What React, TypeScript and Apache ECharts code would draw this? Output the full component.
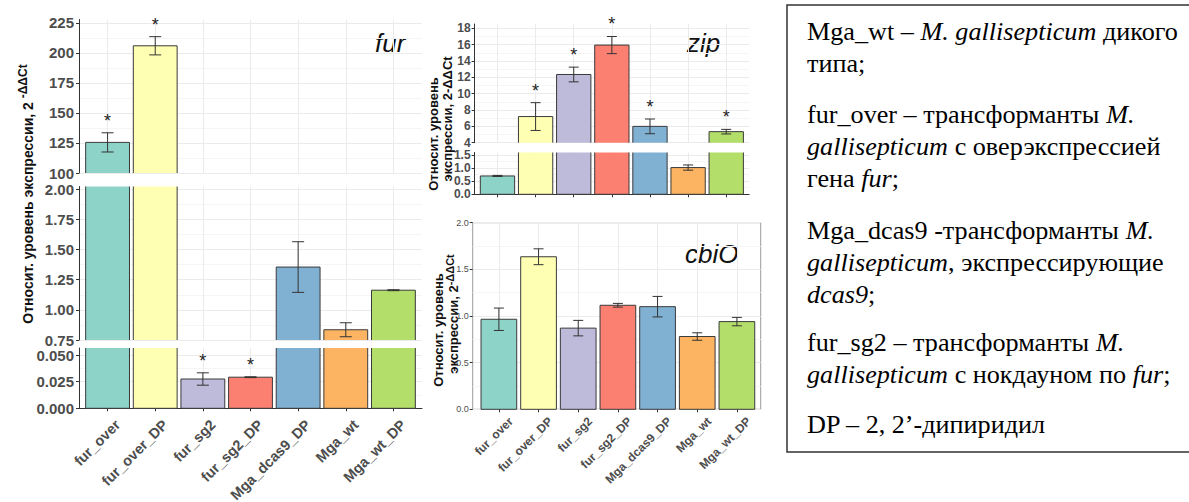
import React, { useEffect, useRef } from 'react';
import * as echarts from 'echarts';

// ---------------- data ----------------
const categories = ['fur_over', 'fur_over_DP', 'fur_sg2', 'fur_sg2_DP', 'Mga_dcas9_DP', 'Mga_wt', 'Mga_wt_DP'];
const barColors = ['#8DD3C7', '#FFFFB3', '#BEBADA', '#FB8072', '#80B1D3', '#FDB462', '#B3DE69'];

const furMean = [125.5, 206, 0.0275, 0.0292, 1.355, 0.835, 1.163];
const furErr = [8, 7.6, 0.0058, 0.0004, 0.21, 0.058, 0.004];
const furSig = [true, true, true, true, false, false, false];

const zipMean = [0.7, 7.2, 12.35, 15.95, 6.0, 1.02, 5.35];
const zipErr = [0.02, 1.7, 0.9, 1.05, 0.9, 0.1, 0.28];
const zipSig = [false, true, true, true, true, false, true];

const cbiOMean = [0.965, 1.635, 0.87, 1.115, 1.1, 0.78, 0.94];
const cbiOErr = [0.12, 0.085, 0.083, 0.02, 0.11, 0.04, 0.045];
const cbiOSig = [false, false, false, false, false, false, false];

// y-axis segments (broken axes)
const furSegMin = [100, 0.75, 0];
const furSegMax = [227.9, 2.023, 0.0566];
const furSegStep = [25, 0.25, 0.025];
const furSegDecimals = [0, 2, 3];

const zipSegMin = [4, 0];
const zipSegMax = [18.53, 1.595];
const zipSegStep = [2, 0.5];
const zipSegDecimals = [0, 1];

const cbiOMin = 0;
const cbiOMax = 2;
const cbiOStep = 0.5;

const legendParagraphs: string[][][] = [
  [[['Mga_wt – ', 'n'], ['M. gallisepticum', 'i'], [' дикого', 'n']], [['типа;', 'n']]],
  [
    [['fur_over – трансформанты ', 'n'], ['M.', 'i']],
    [['gallisepticum', 'i'], [' с оверэкспрессией', 'n']],
    [['гена ', 'n'], ['fur', 'i'], [';', 'n']],
  ],
  [
    [['Mga_dcas9 -трансформанты ', 'n'], ['M.', 'i']],
    [['gallisepticum', 'i'], [', экспрессирующие', 'n']],
    [['dcas9', 'i'], [';', 'n']],
  ],
  [
    [['fur_sg2 – трансформанты ', 'n'], ['M.', 'i']],
    [['gallisepticum', 'i'], [' с нокдауном по ', 'n'], ['fur', 'i'], [';', 'n']],
  ],
  [[['DP – 2, 2’-дипиридил', 'n']]],
];

// ---------------- helpers ----------------
const SANS = "'Liberation Sans', Arial, Helvetica, sans-serif";
const SERIF_FAMILY = "'Liberation Serif', 'Times New Roman', serif";
const LABEL_GRAY = '#4d4d4d';
const AXIS_DARK = '#333333';
const BAR_EDGE = '#3a3a3a';

let measureCtx: CanvasRenderingContext2D | null = null;
function measure(text: string, font: string): number {
  if (!measureCtx) measureCtx = document.createElement('canvas').getContext('2d');
  if (!measureCtx) return text.length * 10;
  measureCtx.font = font;
  return measureCtx.measureText(text).width;
}

function tickValues(min: number, max: number, step: number): number[] {
  const out: number[] = [];
  const start = Math.ceil(min / step - 1e-9) * step;
  for (let v = start; v <= max + 1e-9; v += step) out.push(+v.toFixed(6));
  return out;
}

type Panel = {
  left: number; top: number; width: number; height: number;
  min: number; max: number; step: number; decimals: number;
  xMin: number; xMax: number;
  yLabelSize: number; yLabelBold: boolean; yLabelMargin: number;
  showXAxisLine: boolean; showXLabels: boolean; xLabelSize: number; xLabelDx: number; xLabelDy: number;
  border: boolean; mean: number[]; err: number[]; sig: boolean[];
  cap: number; barFrac: number;
};

const catIdx = categories.map((_, i) => i);

function buildPanels(): Panel[] {
  const panels: Panel[] = [];
  const furLayout = [
    { top: 19.5, height: 153.5 },
    { top: 186.5, height: 153.5 },
    { top: 348, height: 60.3 },
  ];
  furLayout.forEach((l, k) => {
    panels.push({
      left: 79, width: 343, top: l.top, height: l.height,
      min: furSegMin[k], max: furSegMax[k], step: furSegStep[k], decimals: furSegDecimals[k],
      xMin: -0.6, xMax: 6.6,
      yLabelSize: 15, yLabelBold: true, yLabelMargin: 5,
      showXAxisLine: k === 2, showXLabels: k === 2, xLabelSize: 14.5, xLabelDx: 10, xLabelDy: 14,
      border: false, mean: furMean, err: furErr, sig: furSig, cap: 12, barFrac: 0.92,
    });
  });
  const zipLayout = [
    { top: 24, height: 118.7 },
    { top: 152.5, height: 41.8 },
  ];
  zipLayout.forEach((l, k) => {
    panels.push({
      left: 474.6, width: 274.5, top: l.top, height: l.height,
      min: zipSegMin[k], max: zipSegMax[k], step: zipSegStep[k], decimals: zipSegDecimals[k],
      xMin: -0.6, xMax: 6.6,
      yLabelSize: 12, yLabelBold: true, yLabelMargin: 4,
      showXAxisLine: k === 1, showXLabels: false, xLabelSize: 12, xLabelDx: 0, xLabelDy: 0,
      border: false, mean: zipMean, err: zipErr, sig: zipSig, cap: 10, barFrac: 0.9,
    });
  });
  panels.push({
    left: 472.7, width: 288, top: 222.7, height: 186.6,
    min: cbiOMin, max: cbiOMax, step: cbiOStep, decimals: 1,
    xMin: -0.66, xMax: 6.6,
    yLabelSize: 9, yLabelBold: false, yLabelMargin: 4,
    showXAxisLine: false, showXLabels: true, xLabelSize: 12, xLabelDx: 12, xLabelDy: 10,
    border: true, mean: cbiOMean, err: cbiOErr, sig: cbiOSig, cap: 10, barFrac: 0.9,
  });
  return panels;
}

function buildOption() {
  const panels = buildPanels();
  const grid: any[] = [];
  const xAxis: any[] = [];
  const yAxis: any[] = [];
  const series: any[] = [];

  panels.forEach((p, k) => {
    grid.push({
      left: p.left, top: p.top, width: p.width, height: p.height,
      show: p.border, borderColor: '#9a9a9a', borderWidth: 1, backgroundColor: 'transparent',
    });
    xAxis.push({
      type: 'value', gridIndex: k, min: p.xMin, max: p.xMax,
      axisLine: { show: p.showXAxisLine, onZero: false, lineStyle: { color: AXIS_DARK, width: 1 } },
      axisTick: { show: p.showXAxisLine || p.border, customValues: catIdx, length: 3, lineStyle: { color: AXIS_DARK } },
      axisLabel: { show: false, customValues: catIdx },
      splitLine: { show: true, lineStyle: { color: '#ebebeb', width: 1 } },
    });
    const ticks = tickValues(p.min, p.max, p.step);
    yAxis.push({
      type: 'value', gridIndex: k, min: p.min, max: p.max, interval: p.step,
      axisLine: { show: !p.border, onZero: false, lineStyle: { color: AXIS_DARK, width: 1 } },
      axisTick: { show: true, customValues: ticks, length: 3, lineStyle: { color: AXIS_DARK } },
      axisLabel: {
        customValues: ticks, margin: p.yLabelMargin,
        formatter: (v: number) => v.toFixed(p.decimals),
        fontSize: p.yLabelSize, fontWeight: p.yLabelBold ? 'bold' : 'normal',
        color: LABEL_GRAY, fontFamily: SANS,
      },
      splitLine: { show: true, lineStyle: { color: '#ebebeb', width: 1 } },
      minorTick: { show: false, splitNumber: 2 },
      minorSplitLine: { show: true, lineStyle: { color: '#f5f5f5', width: 1 } },
    });

    // bars (clipped to this axis segment, no edge drawn where the bar is cut)
    series.push({
      type: 'custom', xAxisIndex: k, yAxisIndex: k, silent: true, clip: false,
      data: p.mean.map((v, i) => [i, v]),
      encode: { x: 0, y: 1 },
      z: 2,
      renderItem: (params: any, api: any) => {
        const x = api.value(0), v = api.value(1);
        if (v <= p.min) return null;
        const lo = Math.max(0, p.min);
        const hi = Math.min(v, p.max);
        const bw = api.size([1, 0])[0] * p.barFrac;
        const a = api.coord([x, lo]);
        const b = api.coord([x, hi]);
        const x0 = a[0] - bw / 2, x1 = a[0] + bw / 2;
        const yLo = a[1], yHi = b[1];
        const edge = { stroke: BAR_EDGE, lineWidth: 1, fill: null };
        const children: any[] = [
          { type: 'rect', shape: { x: x0, y: yHi, width: bw, height: yLo - yHi }, style: { fill: barColors[params.dataIndex] } },
          { type: 'line', shape: { x1: x0, y1: yLo, x2: x0, y2: yHi }, style: edge },
          { type: 'line', shape: { x1: x1, y1: yLo, x2: x1, y2: yHi }, style: edge },
        ];
        if (v <= p.max) children.push({ type: 'line', shape: { x1: x0, y1: yHi, x2: x1, y2: yHi }, style: edge });
        if (p.min <= 0) children.push({ type: 'line', shape: { x1: x0, y1: yLo, x2: x1, y2: yLo }, style: edge });
        return { type: 'group', children };
      },
    });

    // error bars
    const cap = p.cap;
    series.push({
      type: 'custom', xAxisIndex: k, yAxisIndex: k, silent: true, clip: false,
      data: p.mean.map((v, i) => [i, v, p.err[i]]),
      encode: { x: 0, y: 1 },
      z: 3,
      renderItem: (params: any, api: any) => {
        const x = api.value(0), m = api.value(1), e = api.value(2);
        const top = m + e, bot = m - e;
        if (top < p.min || bot > p.max) return null;
        const hi = api.coord([x, Math.min(top, p.max)]);
        const lo = api.coord([x, Math.max(bot, p.min)]);
        const style = { stroke: '#333', lineWidth: 1, fill: null };
        const children: any[] = [
          { type: 'line', shape: { x1: hi[0], y1: hi[1], x2: lo[0], y2: lo[1] }, style },
        ];
        if (top <= p.max) children.push({ type: 'line', shape: { x1: hi[0] - cap / 2, y1: hi[1], x2: hi[0] + cap / 2, y2: hi[1] }, style });
        if (bot >= p.min) children.push({ type: 'line', shape: { x1: lo[0] - cap / 2, y1: lo[1], x2: lo[0] + cap / 2, y2: lo[1] }, style });
        return { type: 'group', children };
      },
    });

    // significance asterisks
    const starData: number[][] = [];
    p.mean.forEach((v, i) => {
      if (p.sig[i] && v >= p.min && v <= p.max) starData.push([i, v + p.err[i]]);
    });
    if (starData.length) {
      series.push({
        type: 'custom', xAxisIndex: k, yAxisIndex: k, silent: true, clip: false,
        data: starData, encode: { x: 0, y: 1 }, z: 4,
        renderItem: (params: any, api: any) => {
          const c = api.coord([api.value(0), api.value(1)]);
          return {
            type: 'text', x: c[0], y: c[1] - 12,
            style: { text: '*', fontSize: 18, fontFamily: SANS, fill: '#222', align: 'center', verticalAlign: 'middle' },
          };
        },
      });
    }

    // rotated category labels (45°) under the bottom segment
    if (p.showXLabels) {
      series.push({
        type: 'custom', xAxisIndex: k, yAxisIndex: k, silent: true, clip: false,
        data: catIdx.map((i) => [i, p.min]), encode: { x: 0, y: 1 }, z: 4,
        renderItem: (params: any, api: any) => {
          const c = api.coord([api.value(0), api.value(1)]);
          return {
            type: 'text', x: c[0] + p.xLabelDx, y: c[1] + p.xLabelDy, rotation: Math.PI / 4,
            style: {
              text: categories[params.dataIndex], fontSize: p.xLabelSize, fontWeight: 'bold',
              fontFamily: SANS, fill: LABEL_GRAY, align: 'right', verticalAlign: 'middle',
            },
          };
        },
      });
    }
  });

  // ---------- graphic: titles, axis titles, legend box ----------
  const graphic: any[] = [];
  const titleStyle = (t: string) => ({ text: t, fontSize: 26, fontStyle: 'italic', fontFamily: SANS, fill: '#111', align: 'left', verticalAlign: 'middle' });
  graphic.push({ type: 'text', x: 375, y: 42.7, style: titleStyle('fur') });
  graphic.push({ type: 'text', x: 687, y: 42.7, style: titleStyle('zip') });
  graphic.push({ type: 'text', x: 685, y: 253.7, style: titleStyle('cbiO') });

  const ytRich = {
    a: { fontSize: 14, fontWeight: 'bold', fontFamily: SANS, fill: '#111', lineHeight: 22 },
    b: { fontSize: 12, fontWeight: 'bold', fontFamily: SANS, fill: '#111', verticalAlign: 'top' },
  };
  graphic.push({
    type: 'text', x: 28, y: 194, rotation: Math.PI / 2,
    style: { text: '{a|Относит. уровень экспрессии, 2 }{b|-ΔΔCt}', rich: ytRich, align: 'center', verticalAlign: 'middle' },
  });
  const ytPlain = { fontSize: 13, fontWeight: 'bold', fontFamily: SANS, fill: '#111', align: 'center', verticalAlign: 'middle' };
  graphic.push({ type: 'text', x: 433, y: 134, rotation: Math.PI / 2, style: { ...ytPlain, text: 'Относит. уровень' } });
  graphic.push({ type: 'text', x: 447, y: 119, rotation: Math.PI / 2, style: { ...ytPlain, text: 'экспрессии, 2-ΔΔCt' } });

  const ytRich2 = {
    a: { fontSize: 13, fontWeight: 'bold', fontFamily: SANS, fill: '#111', lineHeight: 18 },
    b: { fontSize: 11, fontWeight: 'bold', fontFamily: SANS, fill: '#111', verticalAlign: 'top' },
  };
  graphic.push({ type: 'text', x: 438, y: 330, rotation: Math.PI / 2, style: { ...ytPlain, text: 'Относит. уровень' } });
  graphic.push({
    type: 'text', x: 453, y: 314, rotation: Math.PI / 2,
    style: { text: '{a|экспрессии, 2}{b|-ΔΔCt}', rich: ytRich2, align: 'center', verticalAlign: 'middle' },
  });

  // legend box
  graphic.push({
    type: 'rect', shape: { x: 787, y: 5, width: 420, height: 447 },
    style: { fill: '#fff', stroke: '#333', lineWidth: 1.5 }, z: -1,
  });
  const LEG_SIZE = 25;
  const fontOf = (italic: boolean) => `${italic ? 'italic ' : ''}${LEG_SIZE}px "Liberation Serif", "Times New Roman", serif`;
  const lineWidth = (line: string[][]) => line.reduce((s, [t, st]) => s + measure(t, fontOf(st === 'i')), 0);
  // the reference's first legend line spans ~371 px; stretch the serif text horizontally to match
  const firstW = lineWidth(legendParagraphs[0][0]);
  const sx = firstW > 0 ? Math.min(1.3, Math.max(0.85, 371 / firstW)) : 1;
  const paraStart = [31.4, 114.7, 230.4, 343, 424.7];
  const lineStep = 32;
  legendParagraphs.forEach((para, pi) => {
    para.forEach((line, li) => {
      let cx = 0;
      const y = paraStart[pi] + li * lineStep;
      line.forEach(([t, s]) => {
        const italic = s === 'i';
        graphic.push({
          type: 'text', x: 807 + cx * sx, y, scaleX: sx, scaleY: 1,
          style: {
            text: t, fontSize: LEG_SIZE, fontFamily: SERIF_FAMILY, fontStyle: italic ? 'italic' : 'normal',
            fill: '#000', align: 'left', verticalAlign: 'middle',
          },
        });
        cx += measure(t, fontOf(italic));
      });
    });
  });

  return {
    animation: false,
    backgroundColor: '#ffffff',
    textStyle: { fontFamily: SANS },
    grid, xAxis, yAxis, series, graphic,
  };
}

export default function App() {
  const ref = useRef<HTMLDivElement>(null);
  useEffect(() => {
    if (!ref.current) return;
    const chart = echarts.init(ref.current, undefined, { renderer: 'svg' });
    chart.setOption(buildOption() as any);
    return () => chart.dispose();
  }, []);
  return <div ref={ref} style={{ position: 'absolute', left: 0, top: 0, width: 1189, height: 502 }} />;
}
